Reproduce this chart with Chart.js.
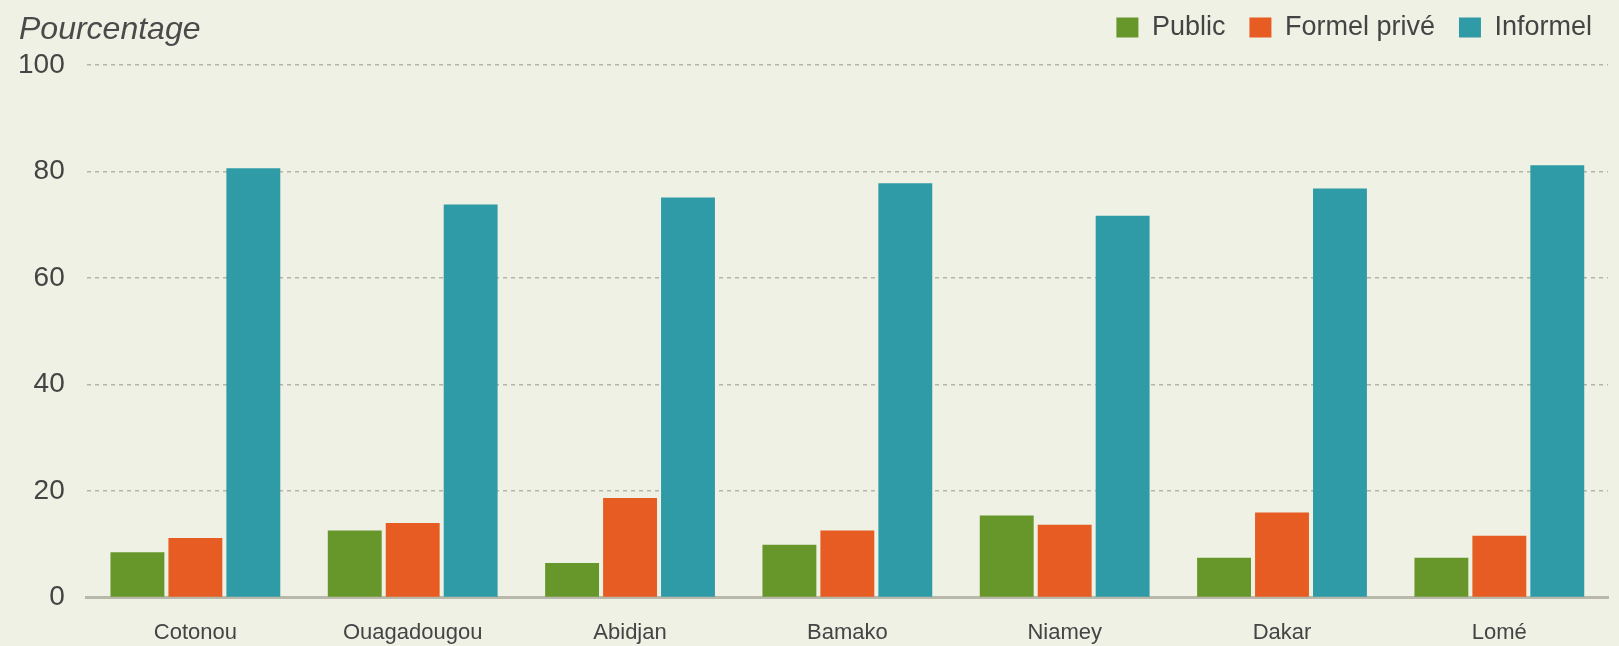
<!DOCTYPE html>
<html>
<head>
<meta charset="utf-8">
<script src="https://cdn.jsdelivr.net/npm/chart.js@4"></script>
<style>
  html, body { margin: 0; padding: 0; background: #eff1e4; }
  #wrap { position: relative; width: 1619px; height: 646px; }
  #yTitle {
    position: absolute; left: 19px; top: 10px;
    font: italic 32px "Liberation Sans", Arial, sans-serif;
    color: #4a4a4a;
  }
</style>
</head>
<body>
<div id="wrap">
  <canvas id="emploiChart"></canvas>
  <div id="yTitle">Pourcentage</div>
</div>
<script>
// Répartition des emplois par secteur institutionnel
const villes = ['Cotonou', 'Ouagadougou', 'Abidjan', 'Bamako', 'Niamey', 'Dakar', 'Lomé'];
const publicVals = [8.5, 12.6, 6.5, 9.9, 15.4, 7.5, 7.5];
const formelPriveVals = [11.2, 14.0, 18.7, 12.6, 13.7, 16.0, 11.6];
const informelVals = [80.6, 73.8, 75.1, 77.8, 71.7, 76.8, 81.2];
const yTicks = [0, 20, 40, 60, 80, 100];

const textColor = '#444444';
const fontFamily = '"Liberation Sans", Arial, sans-serif';

// more room under the legend, and legend nudged to the right
const legendSpacer = {
    id: 'legendSpacer',
    beforeInit(chart) {
        const legend = chart.legend;
        if (!legend) return;
        const fit = legend.fit;
        legend.fit = function() {
            fit.call(this);
            this.height += 14;
        };
    },
    afterLayout(chart) {
        if (!chart.legend) return;
        chart.legend.left += 8;
        chart.legend.right += 8;
    }
};

const ctx = document.getElementById('emploiChart');
new Chart(ctx, {
    type: 'bar',
    data: {
        labels: villes,
        datasets: [
            { label: 'Public', data: publicVals, backgroundColor: '#67972a' },
            { label: 'Formel privé', data: formelPriveVals, backgroundColor: '#e65c22' },
            { label: 'Informel', data: informelVals, backgroundColor: '#2f9ba6' }
        ]
    },
    options: {
        responsive: true,
        maintainAspectRatio: false,
        animation: false,
        categoryPercentage: 0.8,
        barPercentage: 0.93,
        layout: {
            padding: { left: -4, right: 11, top: -10, bottom: -22 }
        },
        plugins: {
            legend: {
                display: true,
                position: 'top',
                align: 'end',
                labels: {
                    boxWidth: 22,
                    boxHeight: 20,
                    padding: 24,
                    color: textColor,
                    font: { family: fontFamily, size: 27 }
                }
            },
            tooltip: { enabled: false }
        },
        scales: {
            x: {
                grid: { display: false, drawTicks: false },
                border: { display: true, color: '#b8b8ab', width: 3 },
                ticks: {
                    color: textColor,
                    padding: 22,
                    font: { family: fontFamily, size: 22 }
                }
            },
            y: {
                min: 0,
                max: 100,
                afterBuildTicks: function(axis) {
                    axis.ticks = yTicks.map(v => ({ value: v }));
                },
                grid: {
                    drawTicks: false,
                    color: function(c) {
                        return c.tick && c.tick.value === 0 ? 'rgba(0,0,0,0)' : '#b5b5a8';
                    },
                    lineWidth: 1.5
                },
                border: { display: false, dash: [4, 4] },
                ticks: {
                    color: textColor,
                    padding: 22,
                    font: { family: fontFamily, size: 28 }
                }
            }
        }
    },
    plugins: [legendSpacer]
});
</script>
</body>
</html>
